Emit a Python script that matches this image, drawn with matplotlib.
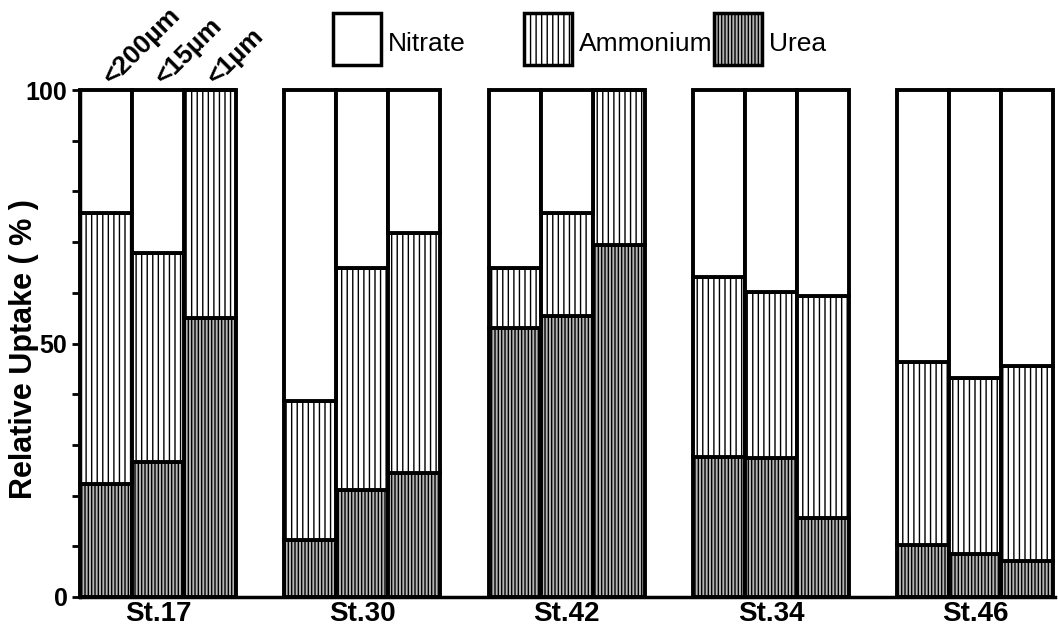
import matplotlib
matplotlib.use("Agg")
import matplotlib.pyplot as plt
from matplotlib.patches import Rectangle

plt.rcParams['font.family'] = ['Liberation Sans', 'DejaVu Sans']
plt.rcParams['hatch.linewidth'] = 1.0

stations = ["St.17", "St.30", "St.42", "St.34", "St.46"]
sizes = ["<200\u00b5m", "<15\u00b5m", "<1\u00b5m"]
urea = [22.3, 26.6, 55.0, 11.2, 21.1, 24.5, 53.0, 55.4, 69.4, 27.6, 27.4, 15.6, 10.3, 8.5, 7.1]
ammonium = [53.4, 41.2, 45.0, 27.5, 43.8, 47.3, 11.9, 20.3, 30.6, 35.5, 32.8, 43.8, 36.1, 34.7, 38.5]
nitrate = [24.3, 32.2, 0.0, 61.3, 35.1, 28.2, 35.1, 24.3, 0.0, 36.9, 39.8, 40.6, 53.6, 56.8, 54.4]

fig = plt.figure(figsize=(10.58, 6.27), dpi=100)
ax = fig.add_axes([80/1058, 30/627, 975/1058, 507/627])

gap = 3.93
xs = [g * gap + j for g in range(len(stations)) for j in range(3)]
bottom_amm = urea
bottom_nit = [u + a for u, a in zip(urea, ammonium)]

urea_face = '#b4b4b4'
lw = 2.8
ax.bar(xs, urea, width=1.0, facecolor=urea_face, edgecolor='black', hatch='|||||',
       linewidth=lw, clip_on=False, zorder=2)
ax.bar(xs, ammonium, bottom=bottom_amm, width=1.0, facecolor='white', edgecolor='black',
       hatch='|||', linewidth=lw, clip_on=False, zorder=2)
ax.bar(xs, nitrate, bottom=bottom_nit, width=1.0, facecolor='white', edgecolor='black',
       linewidth=lw, clip_on=False, zorder=2)

ax.set_xlim(-0.5, 18.25)
ax.set_ylim(0, 100)
for s in ['top', 'right']:
    ax.spines[s].set_visible(False)
for s in ['left', 'bottom']:
    ax.spines[s].set_linewidth(2.5)

ax.set_yticks([0, 50, 100])
ax.set_yticklabels(['0', '50', '100'], fontsize=18, fontweight='bold')
ax.set_yticks(range(0, 101, 10), minor=True)
ax.tick_params(axis='y', which='both', direction='out', length=6, width=2, pad=3)

centers = [g * gap + 1 for g in range(len(stations))]
ax.set_xticks(centers)
ax.set_xticklabels(stations, fontsize=20, fontweight='bold')
ax.tick_params(axis='x', length=0, pad=3)

ax.set_ylabel('Relative Uptake ( % )', fontsize=22, fontweight='bold')
ax.yaxis.set_label_coords(-41/975, 0.49)

# size-fraction labels over the first group
for j, lab in enumerate(sizes):
    ax.annotate(lab, xy=(xs[j] + 0.12, 100), xytext=(0, 3), textcoords='offset points',
                rotation=45, rotation_mode='anchor', ha='left', va='baseline',
                fontsize=19, fontweight='bold', annotation_clip=False)

# legend
W, H = 1058, 627
items = [("Nitrate", 333, dict(facecolor='white', hatch=None)),
         ("Ammonium", 524, dict(facecolor='white', hatch='|||')),
         ("Urea", 714, dict(facecolor=urea_face, hatch='|||||'))]
for name, x0, st in items:
    r = Rectangle((x0 / W, 1 - 65 / H), 48 / W, 52 / H, transform=fig.transFigure,
                  edgecolor='black', linewidth=2.5, facecolor=st['facecolor'],
                  hatch=st['hatch'])
    fig.add_artist(r)
    fig.text((x0 + 55) / W, 1 - 44 / H, name, fontsize=19, va='center', ha='left')

fig.savefig('out.png', dpi=100)
